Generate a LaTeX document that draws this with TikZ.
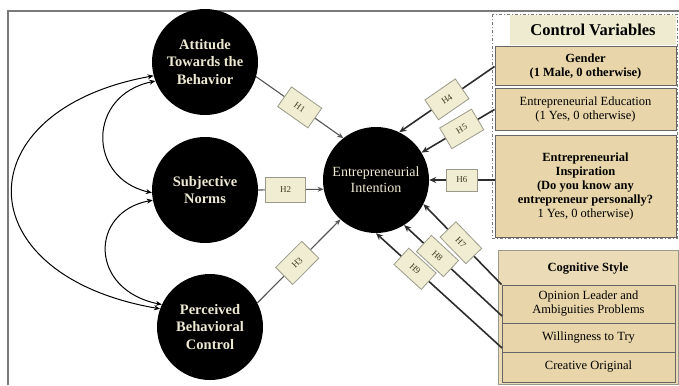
\documentclass[tikz,border=0pt]{standalone}
\usepackage{fontspec}
\setmainfont{Liberation Serif}
\usetikzlibrary{arrows.meta,calc}
\definecolor{cream}{HTML}{EEE9D2}
\definecolor{hfill}{HTML}{F0EDD2}
\definecolor{hgray}{HTML}{9A9A8A}
\definecolor{htext}{HTML}{3E3C22}
\definecolor{tanfill}{HTML}{E8D6AA}
\definecolor{tanlight}{HTML}{EBDBB6}
\definecolor{headfill}{HTML}{EEEBD0}
\definecolor{boxborder}{HTML}{666666}
\definecolor{linegray}{HTML}{555555}
\definecolor{darkline}{HTML}{2E2E2E}
\definecolor{framegray}{HTML}{7A7A7A}
\tikzset{
 latent/.style={circle, fill=black, minimum size=106pt, inner sep=0pt, align=center, text=cream},
 hbox/.style={draw=hgray, line width=0.8pt, fill=hfill, minimum width=37pt, minimum height=24pt, inner sep=1pt, font=\fontsize{9}{10}\selectfont, text=htext},
 cvbox/.style={draw=boxborder, line width=1pt, fill=tanfill, minimum width=181pt, align=center, font=\fontsize{12.5}{14}\selectfont, inner sep=1pt},
 rowbox/.style={draw=boxborder, line width=1pt, fill=tanfill, minimum width=173pt, align=center, font=\fontsize{12.5}{14}\selectfont, inner sep=1pt},
 link/.style={draw=linegray, line width=1.1pt, -{Stealth[length=6pt,width=5pt]}},
 clink/.style={draw=darkline, line width=1.6pt, -{Stealth[length=7pt,width=6pt]}},
 corr/.style={draw=black, line width=1pt, {Stealth[length=6pt,width=5pt]}-{Stealth[length=6pt,width=5pt]}},
}
\begin{document}
\begin{tikzpicture}[x=1pt,y=-1pt]
\useasboundingbox (0,0) rectangle (679,385);
\fill[white] (0,0) rectangle (679,385);
% outer frame
\draw[framegray, line width=1.5pt] (8,385) -- (8,11) -- (679,11);

% latent variables
\node[latent, font=\bfseries\fontsize{14.5}{17.5}\selectfont] (att) at (205,62) {Attitude\\Towards the\\Behavior};
\node[latent, font=\bfseries\fontsize{14.5}{17.5}\selectfont] (subj) at (205,190) {Subjective\\Norms};
\node[latent, font=\bfseries\fontsize{14.5}{17.5}\selectfont] (per) at (210,327) {Perceived\\Behavioral\\Control};
\node[latent, font=\fontsize{14}{16}\selectfont] (ei) at (376,180) {Entrepreneurial\\Intention};

% correlations
\draw[corr] (att.195) .. controls (-36,110) and (-36,275) .. (per.160);
\draw[corr] (att.201) .. controls (87,95) and (87,178) .. (subj.183);
\draw[corr] (subj.191) .. controls (89,212) and (89,290) .. (per.155);

% control variables frame
\draw[framegray, line width=0.9pt, dash pattern=on 3pt off 2pt on 1pt off 2pt] (492,14) rectangle (677,238);
\node[fill=headfill, minimum width=166pt, minimum height=30pt, inner sep=0pt, font=\bfseries\fontsize{16.5}{18}\selectfont] (head) at (593,30) {Control Variables};
\node[cvbox, minimum height=39pt, font=\bfseries\fontsize{12.5}{13.5}\selectfont] (gender) at (585.5,66.5) {Gender\\(1 Male, 0 otherwise)};
\node[cvbox, minimum height=41pt] (edu) at (585.5,109.5) {Entrepreneurial Education\\(1 Yes, 0 otherwise)};
\node[cvbox, minimum height=102pt] (insp) at (585.5,186) {\textbf{Entrepreneurial}\\\textbf{Inspiration}\\\textbf{(Do you know any}\\\textbf{entrepreneur personally?}\\1 Yes, 0 otherwise)};

% cognitive style
\node[draw=hgray, line width=0.9pt, fill=tanlight, minimum width=180pt, minimum height=134pt, inner sep=0pt] (cog) at (588,317) {};
\node[font=\bfseries\fontsize{12.5}{14}\selectfont] (cogt) at (588,269) {Cognitive Style};
\node[rowbox, minimum height=38pt] (opin) at (588.5,304) {Opinion Leader and\\Ambiguities Problems};
\node[rowbox, minimum height=29pt] (will) at (588.5,337.5) {Willingness to Try};
\node[rowbox, minimum height=30pt] (crea) at (588.5,367) {Creative Original};
\coordinate (c7) at (opin.north west);
\coordinate (c8) at (502,316);
\coordinate (c9) at (502,348);

% hypotheses: main constructs
\draw[link] (att.-16) -- node[hbox, sloped, pos=0.5] {H1} (ei.128);
\draw[link] (subj.east) -- node[hbox, pos=0.42, minimum width=40pt, minimum height=25pt] {H2} (ei.190);
\draw[link] (per.27) -- node[hbox, sloped, pos=0.48] {H3} (ei.-132);

% hypotheses: control variables
\draw[clink] (gender.west) -- node[hbox, sloped, pos=0.5] {H4} (ei.64);
\draw[clink] (edu.west) -- node[hbox, sloped, pos=0.45] {H5} (ei.31);
\draw[clink] (ei.east -| insp.west) -- node[hbox, minimum width=31pt, minimum height=22pt] {H6} (ei.east);
\draw[clink] (c7) -- node[hbox, sloped, pos=0.52, minimum height=22pt] {H7} (ei.-27);
\draw[clink] (c8) -- node[hbox, sloped, pos=0.66, minimum height=22pt] {H8} (ei.-58);
\draw[clink] (c9) -- node[hbox, sloped, pos=0.69, minimum height=22pt] {H9} (ei.-90);
\end{tikzpicture}
\end{document}
